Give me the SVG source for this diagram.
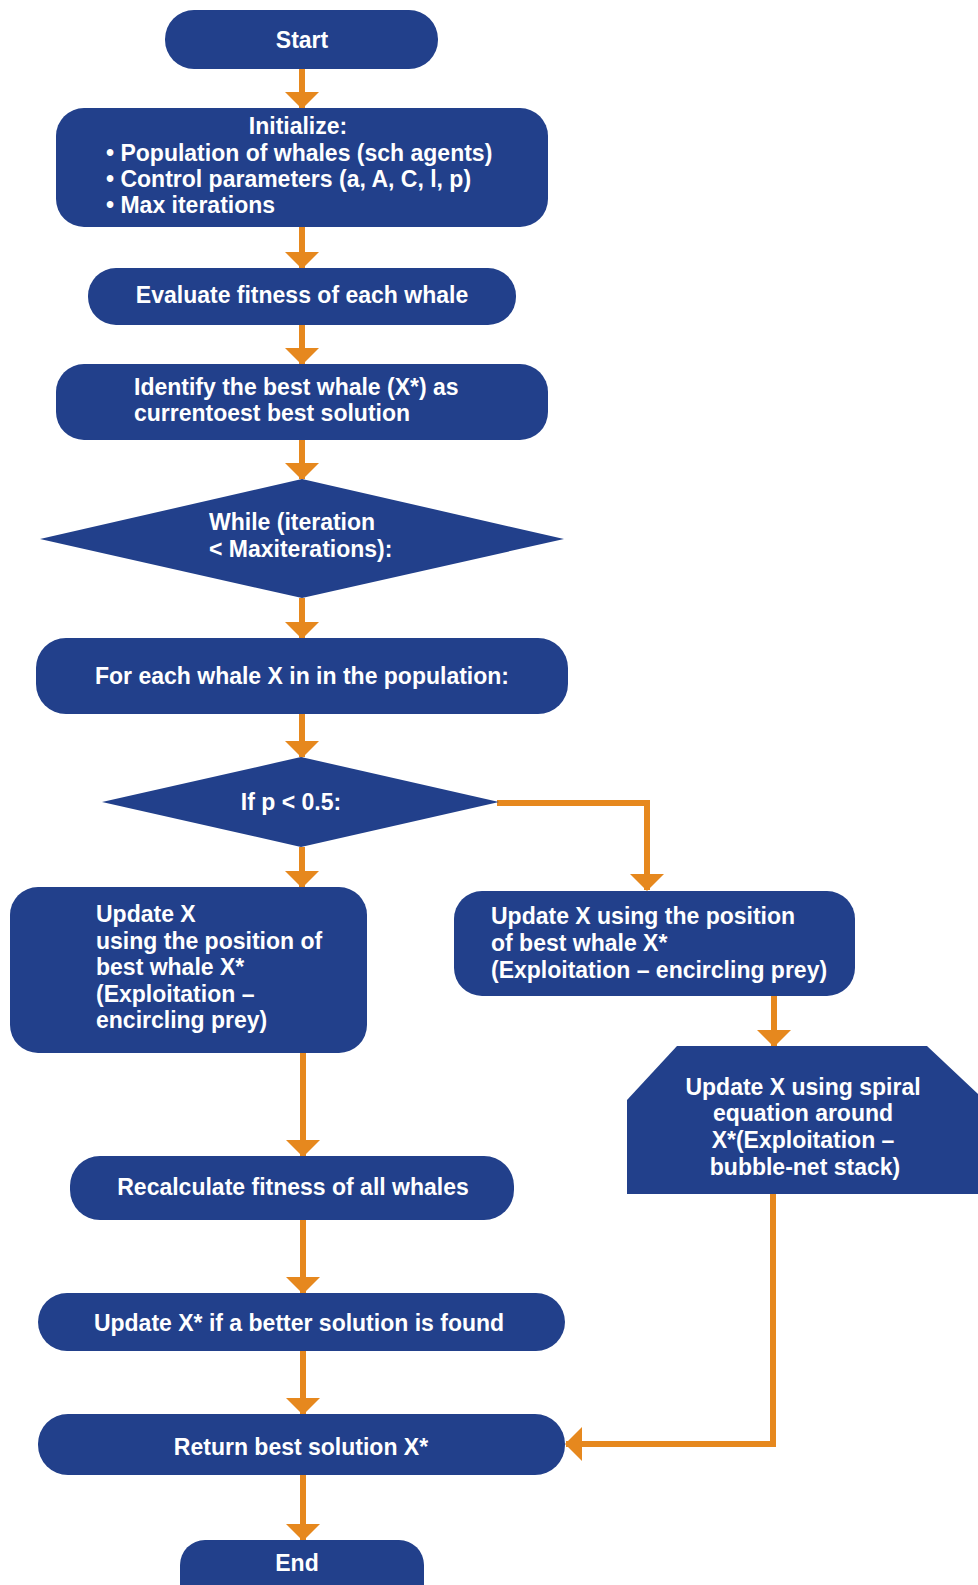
<svg xmlns="http://www.w3.org/2000/svg" width="978" height="1585" viewBox="0 0 978 1585">
<defs>
<style>
.n{fill:#22408B;}
.t{fill:#FFFFFF;font-family:"Liberation Sans",Arial,sans-serif;font-weight:bold;font-size:23px;}
.c{text-anchor:middle;}
.e{fill:none;stroke:#E6881E;stroke-width:6;marker-end:url(#ah);}
</style>
<marker id="ah" viewBox="0 0 17 34" refX="16" refY="17" markerWidth="17" markerHeight="34" markerUnits="userSpaceOnUse" orient="auto">
<path d="M0,0 L17,17 L0,34 z" fill="#E6881E"/>
</marker>
</defs>
<rect width="978" height="1585" fill="#FFFFFF"/>
<g id="connectors">
<line class="e" x1="302" y1="69" x2="302" y2="108"/>
<line class="e" x1="302" y1="227" x2="302" y2="268"/>
<line class="e" x1="302" y1="325" x2="302" y2="364"/>
<line class="e" x1="302" y1="440" x2="302" y2="479"/>
<line class="e" x1="302" y1="598" x2="302" y2="638"/>
<line class="e" x1="302" y1="714" x2="302" y2="757"/>
<line class="e" x1="302" y1="847" x2="302" y2="887"/>
<polyline class="e" points="497,803 647,803 647,890"/>
<line class="e" x1="774" y1="996" x2="774" y2="1046"/>
<line class="e" x1="303" y1="1053" x2="303" y2="1156"/>
<line class="e" x1="303" y1="1220" x2="303" y2="1293"/>
<line class="e" x1="303" y1="1351" x2="303" y2="1414"/>
<line class="e" x1="303" y1="1475" x2="303" y2="1540"/>
<polyline class="e" points="773,1194 773,1444 566,1444"/>
</g>
<g id="start"><rect class="n" x="165" y="10" width="273" height="59" rx="29"/><text class="t c" x="302" y="48">Start</text></g>
<g id="init"><rect class="n" x="56" y="108" width="492" height="119" rx="28"/>
<text class="t c" x="298" y="134">Initialize:</text>
<text class="t" x="106" y="161">• Population of whales (sch agents)</text>
<text class="t" x="106" y="187">• Control parameters (a, A, C, l, p)</text>
<text class="t" x="106" y="213">• Max iterations</text></g>
<g id="evaluate"><rect class="n" x="88" y="268" width="428" height="57" rx="28"/><text class="t c" x="302" y="303">Evaluate fitness of each whale</text></g>
<g id="identify"><rect class="n" x="56" y="364" width="492" height="76" rx="28"/>
<text class="t" x="134" y="395">Identify the best whale (X*) as</text>
<text class="t" x="134" y="421">currentoest best solution</text></g>
<g id="while"><polygon class="n" points="40,539 302,479 564,539 302,598"/>
<text class="t" x="209" y="530">While (iteration</text>
<text class="t" x="209" y="557">&lt; Maxiterations):</text></g>
<g id="foreach"><rect class="n" x="36" y="638" width="532" height="76" rx="30"/><text class="t c" x="302" y="684">For each whale X in in the population:</text></g>
<g id="ifp"><polygon class="n" points="102,802 301,757 499,802 301,847"/><text class="t c" x="291" y="810">If p &lt; 0.5:</text></g>
<g id="update-left"><rect class="n" x="10" y="887" width="357" height="166" rx="28"/>
<text class="t" x="96" y="922">Update X</text>
<text class="t" x="96" y="949">using the position of</text>
<text class="t" x="96" y="975">best whale X*</text>
<text class="t" x="96" y="1002">(Exploitation –</text>
<text class="t" x="96" y="1028">encircling prey)</text></g>
<g id="update-right"><rect class="n" x="454" y="891" width="401" height="105" rx="28"/>
<text class="t" x="491" y="924">Update X using the position</text>
<text class="t" x="491" y="951">of best whale X*</text>
<text class="t" x="491" y="978">(Exploitation – encircling prey)</text></g>
<g id="spiral"><polygon class="n" points="627,1100 677,1046 927,1046 978,1094 978,1194 627,1194"/>
<text class="t c" x="803" y="1095">Update X using spiral</text>
<text class="t c" x="803" y="1121">equation around</text>
<text class="t c" x="803" y="1148">X*(Exploitation –</text>
<text class="t c" x="805" y="1175">bubble-net stack)</text></g>
<g id="recalc"><rect class="n" x="70" y="1156" width="444" height="64" rx="30"/><text class="t c" x="293" y="1195">Recalculate fitness of all whales</text></g>
<g id="update-best"><rect class="n" x="38" y="1293" width="527" height="58" rx="29"/><text class="t c" x="299" y="1331">Update X* if a better solution is found</text></g>
<g id="return"><rect class="n" x="38" y="1414" width="527" height="61" rx="30"/><text class="t c" x="301" y="1455">Return best solution X*</text></g>
<g id="end"><rect class="n" x="180" y="1540" width="244" height="70" rx="25"/><text class="t c" x="297" y="1571">End</text></g>
</svg>
